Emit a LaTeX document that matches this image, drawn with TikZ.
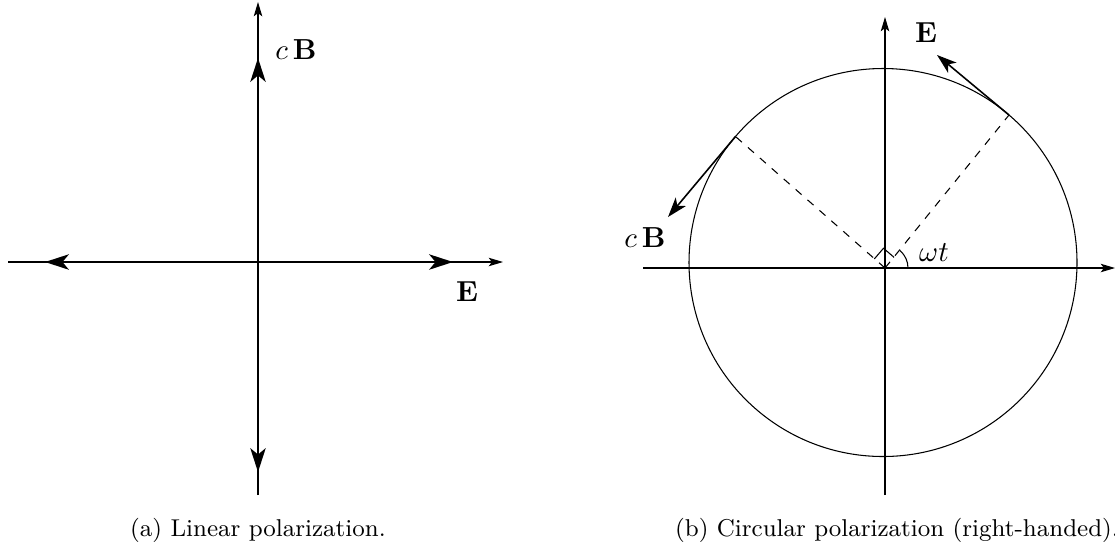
\documentclass[tikz,border=0pt]{standalone}
\usepackage{amsmath, amssymb}
\usepackage{tikz}
\usetikzlibrary{calc, arrows.meta, positioning}

\begin{document}
\begin{tikzpicture}[x=0.378pt, y=-0.378pt,
    axis/.style={line width=0.4pt, -{Stealth[length=5.4pt, width=3.2pt, inset=1.2pt]}},
    vec/.style={line width=0.9pt, -{Stealth[length=9pt, width=5.8pt, inset=2.4pt]}},
    tang/.style={line width=0.6pt, -{Stealth[length=7.5pt, width=5pt, inset=2pt]}},
    lab/.style={font=\fontsize{11}{13}\selectfont},
    captext/.style={font=\fontsize{9.2}{11}\selectfont}]
    \useasboundingbox (0,0) rectangle (1115,544);

    % (a) Hệ trục
    \coordinate (Oa) at (258,262);
    \coordinate (xa0) at (8,262);
    \coordinate (xa1) at (503,262);
    \coordinate (ya0) at (258,495);
    \coordinate (ya1) at (258,2);
    \draw[axis] (xa0) -- (xa1);
    \draw[axis] (ya0) -- (ya1);

    % Các vectơ
    \coordinate (Ea) at (453,262);
    \coordinate (Ea2) at (45,262);
    \coordinate (Ba) at (258,58);
    \coordinate (Ba2) at (258,472);
    \draw[vec] (Oa) -- (Ea);
    \draw[vec] (Oa) -- (Ea2);
    \draw[vec] (Oa) -- (Ba);
    \draw[vec] (Oa) -- (Ba2);
    \node[lab] (labEa) at (467,292) {$\mathbf{E}$};
    \node[lab] (labBa) at (296,50) {$c\,\mathbf{B}$};
    \node[captext] (capa) at (258,530) {(a) Linear polarization.};

    % (b) Hệ trục
    \coordinate (Ob) at (885,268);
    \coordinate (xb0) at (643,268);
    \coordinate (xb1) at (1115,268);
    \coordinate (yb0) at (885,495);
    \coordinate (yb1) at (885,17);
    \draw[axis] (xb0) -- (xb1);
    \draw[axis] (yb0) -- (yb1);

    % Đường tròn
    \coordinate (Cb) at (883,262.5);
    \draw[line width=0.4pt] (Cb) circle[radius=194];

    % Các điểm trên đường tròn
    \coordinate (Pb) at ($(Cb)+(49.5:194 and -194)$);
    \coordinate (Qb) at ($(Cb)+(139.5:194 and -194)$);
    \coordinate (Eb) at (937,55);
    \coordinate (Bb) at (668,217);
    \draw[dashed, line width=0.4pt] (Ob) -- (Pb);
    \draw[dashed, line width=0.4pt] (Ob) -- (Qb);
    \draw[tang] (Pb) -- (Eb);
    \draw[tang] (Qb) -- (Bb);

    % Góc vuông và góc omega t
    \draw[line width=0.4pt] ($(Ob)+(49.5:14 and -14)$)
        -- ($(Ob)+(49.5:14 and -14)+(139.5:14 and -14)$)
        -- ($(Ob)+(139.5:14 and -14)$);
    \draw[line width=0.4pt] ($(Ob)+(23,0)$) arc[start angle=0, end angle=-49.5, radius=23];
    \node[lab] (labw) at (934,253) {$\omega t$};
    \node[lab] (labEb) at (926,33) {$\mathbf{E}$};
    \node[lab] (labBb) at (645,238) {$c\,\mathbf{B}$};
    \node[captext] (capb) at (897,530) {(b) Circular polarization (right-handed).};
\end{tikzpicture}
\end{document}
